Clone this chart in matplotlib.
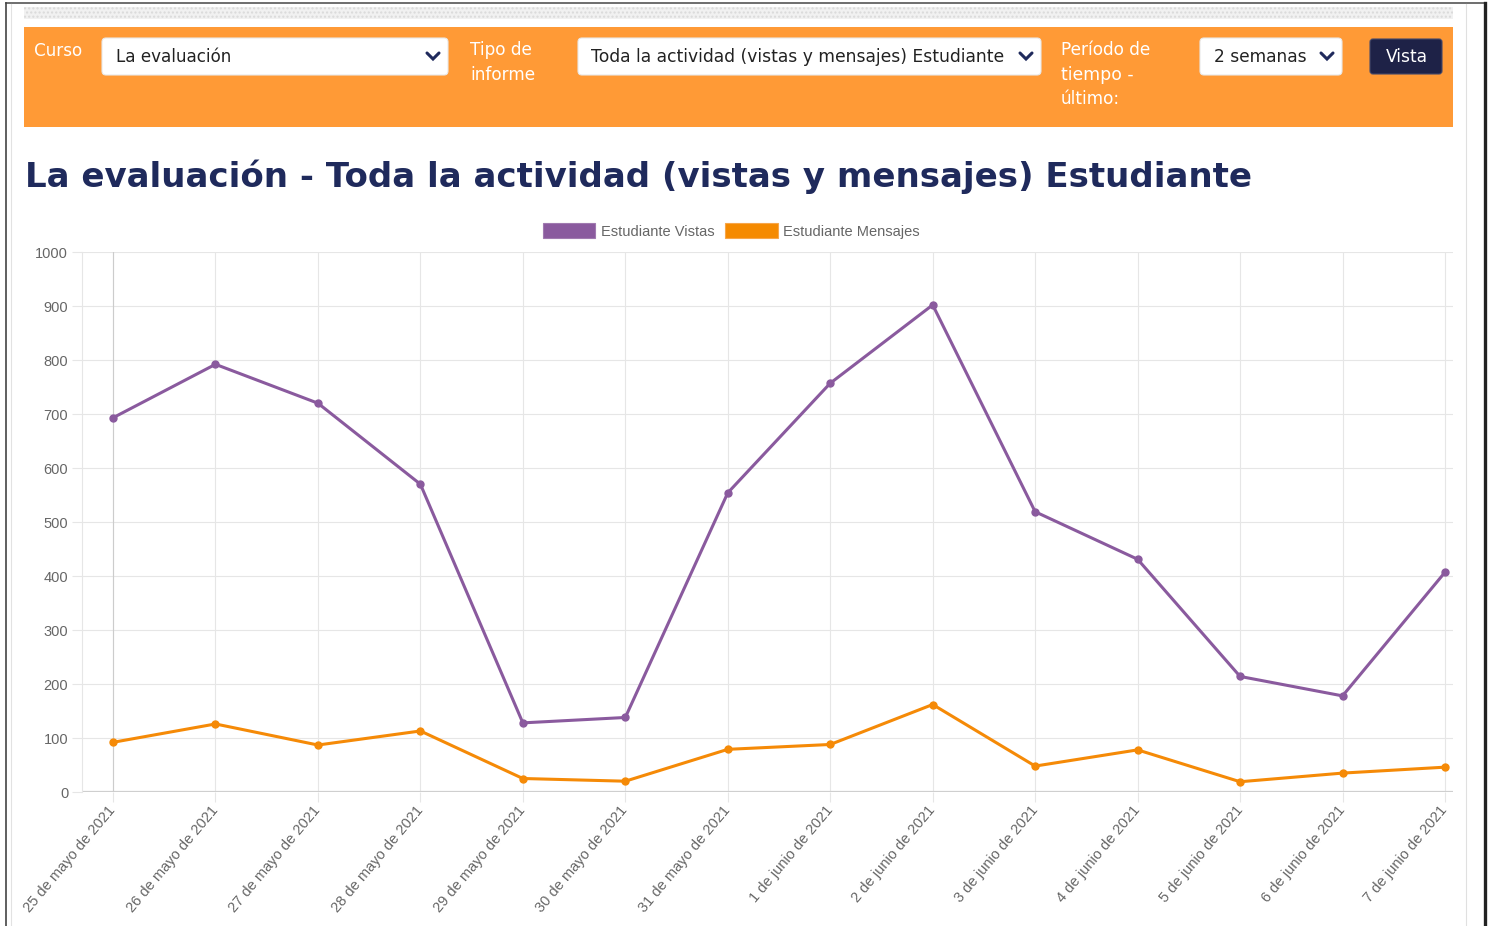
import matplotlib
matplotlib.use("Agg")
import matplotlib.pyplot as plt
from matplotlib.patches import Rectangle, FancyBboxPatch, Patch
from matplotlib.lines import Line2D
from matplotlib.transforms import IdentityTransform

fechas = ["25 de mayo de 2021", "26 de mayo de 2021", "27 de mayo de 2021",
          "28 de mayo de 2021", "29 de mayo de 2021", "30 de mayo de 2021",
          "31 de mayo de 2021", "1 de junio de 2021", "2 de junio de 2021",
          "3 de junio de 2021", "4 de junio de 2021", "5 de junio de 2021",
          "6 de junio de 2021", "7 de junio de 2021"]
vistas = [693, 792, 720, 570, 128, 138, 554, 757, 902, 519, 431, 214, 178, 407]
mensajes = [92, 126, 87, 113, 25, 20, 79, 88, 162, 48, 78, 19, 35, 46]

W, H = 1490, 926
fig = plt.figure(figsize=(W / 100, H / 100), dpi=100)
fig.patch.set_facecolor("white")
renderer = fig.canvas.get_renderer()
ident = IdentityTransform()

NAVY = "#1f2a5c"
ORANGE_BAR = "#ff9a36"


def rect(x0, y0, x1, y1, **kw):
    # pixel box, y measured from the top of the picture
    p = Rectangle((x0, H - y1), x1 - x0, y1 - y0, transform=ident, **kw)
    fig.add_artist(p)
    return p


def rbox(x0, y0, x1, y1, r=4, **kw):
    p = FancyBboxPatch((x0, H - y1), x1 - x0, y1 - y0,
                       boxstyle="round,pad=0,rounding_size=%d" % r,
                       transform=ident, **kw)
    fig.add_artist(p)
    return p


def line(xs, ys, **kw):
    fig.add_artist(Line2D(xs, [H - y for y in ys], transform=ident, **kw))


def fit_text(x, y, s, w, **kw):
    t = fig.text(x / W, 1 - y / H, s, fontsize=10, va="center", ha="left", **kw)
    bb = t.get_window_extent(renderer)
    t.set_fontsize(10 * w / bb.width)
    return t


def chevron(cx, cy):
    line([cx - 6, cx, cx + 6], [cy - 3, cy + 3, cy - 3], color=NAVY, lw=2.2,
         solid_capstyle="round", solid_joinstyle="miter")


# page frame
line([6, 1484], [3, 3], color="#555555", lw=1.2)
line([6, 6], [3, H], color="#444444", lw=1.2)
line([11, 11], [4, H], color="#e2e2e2", lw=0.8)
line([1466, 1466], [4, H], color="#e0e0e0", lw=0.8)
line([1485, 1485], [3, H], color="#222222", lw=2.4)

# dotted strip and orange filter bar
rect(24, 7, 1453, 19, facecolor="#f1f1f1", edgecolor="#dadada", hatch="....", lw=0)
rect(24, 27, 1453, 127, facecolor=ORANGE_BAR, edgecolor="none")

fit_text(34, 51, "Curso", 48, color="white")
fit_text(470, 50, "Tipo de", 62, color="white")
fit_text(470, 75, "informe", 65, color="white")
fit_text(1061, 50, "Período de", 90, color="white")
fit_text(1061, 75, "tiempo -", 72, color="white")
fit_text(1061, 99, "último:", 59, color="white")

rbox(102, 38, 448, 75, facecolor="white", edgecolor="#e8e8e8", lw=0.8)
rbox(578, 38, 1041, 75, facecolor="white", edgecolor="#e8e8e8", lw=0.8)
rbox(1200, 38, 1342, 75, facecolor="white", edgecolor="#e8e8e8", lw=0.8)
rbox(1370, 39, 1442, 74, r=3, facecolor="#1e2247", edgecolor="#44486a", lw=0.8)

fit_text(116, 57, "La evaluación", 116, color="#222222")
fit_text(591, 57, "Toda la actividad (vistas y mensajes) Estudiante", 413, color="#222222")
fit_text(1214, 57, "2 semanas", 92, color="#222222")
fit_text(1386, 57, "Vista", 42, color="white")
chevron(433, 56)
chevron(1026, 56)
chevron(1327, 56)

# heading
fit_text(25, 177, "La evaluación - Toda la actividad (vistas y mensajes) Estudiante",
         1226, color=NAVY, fontweight="bold")

# chart
x0_px, x13_px = 113, 1445
step = (x13_px - x0_px) / 13
left_px, right_px, top_px, bot_px = 81.7, 1453, 252, 792
ax = fig.add_axes([left_px / W, 1 - bot_px / H, (right_px - left_px) / W,
                   (bot_px - top_px) / H])
ax.set_xlim((left_px - x0_px) / step, (right_px - x0_px) / step)
ax.set_ylim(0, 1000)

grid_c = "#e6e6e6"
ax.set_yticks(range(0, 1001, 100))
ax.set_xticks(range(len(fechas)))
ax.set_xticklabels(fechas, rotation=50, ha="right", va="center",
                   rotation_mode="anchor")
ax.grid(True, color=grid_c, lw=0.8)
ax.set_axisbelow(True)
ax.tick_params(length=7.2, width=0.8, color=grid_c, labelcolor="#666666",
               labelsize=10.5, pad=2.5)
ax.tick_params(axis="x", pad=4)
for lab in ax.get_xticklabels() + ax.get_yticklabels():
    lab.set_fontfamily("Liberation Sans")
for s in ["top", "right", "bottom"]:
    ax.spines[s].set_visible(False)
ax.spines["left"].set_color(grid_c)
ax.spines["left"].set_linewidth(0.8)
ax.axhline(0, color="#cfcfcf", lw=1.6, zorder=1)
ax.axvline(0, color="#cccccc", lw=0.8, zorder=1)

xs = list(range(len(fechas)))
ax.plot(xs, vistas, color="#8a5a9e", lw=2.2, marker="o", ms=5, zorder=3)
ax.plot(xs, mensajes, color="#f58a07", lw=2.2, marker="o", ms=5, zorder=3)

handles = [Patch(facecolor="#8a5a9e", edgecolor="#a07ab0", lw=0.8),
           Patch(facecolor="#f58a00", edgecolor="#f7a64a", lw=0.8)]
fig.legend(handles, ["Estudiante Vistas", "Estudiante Mensajes"], ncol=2,
           loc="center", bbox_to_anchor=(731.5 / W, 1 - 231 / H),
           frameon=False, prop={"family": "Liberation Sans", "size": 10.5},
           labelcolor="#666666", handlelength=3.57, handleheight=1.2,
           handletextpad=0.4, columnspacing=0.75, borderpad=0)

fig.savefig("out.png", dpi=100)
